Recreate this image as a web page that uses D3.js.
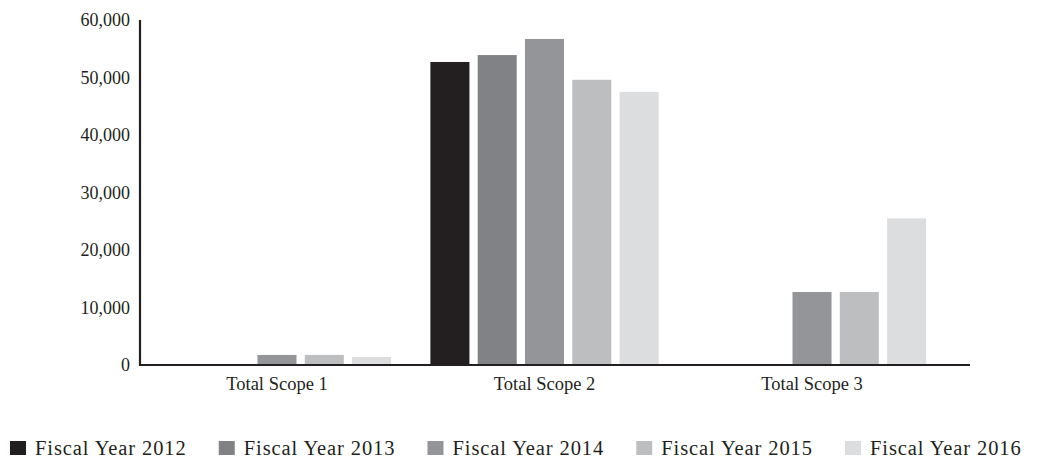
<!DOCTYPE html>
<html>
<head>
<meta charset="utf-8">
<script src="https://cdn.jsdelivr.net/npm/d3@7"></script>
<style>
  html, body { margin: 0; padding: 0; background: #ffffff; }
  svg { display: block; }
  text { font-family: "Liberation Serif", "DejaVu Serif", serif; fill: #231f20; }
</style>
</head>
<body>
<svg id="chart" width="1038" height="460"></svg>
<script>
const categories = ["Total Scope 1", "Total Scope 2", "Total Scope 3"];
const seriesNames = ["Fiscal Year 2012", "Fiscal Year 2013", "Fiscal Year 2014", "Fiscal Year 2015", "Fiscal Year 2016"];
const fy2012 = [0, 52700, 0];
const fy2013 = [0, 53900, 0];
const fy2014 = [1750, 56700, 12700];
const fy2015 = [1750, 49600, 12700];
const fy2016 = [1400, 47500, 25500];
const yTicks = [0, 10000, 20000, 30000, 40000, 50000, 60000];
const colors = ["#231f20", "#808285", "#939598", "#bcbec0", "#dcddde"];

const seriesValues = [fy2012, fy2013, fy2014, fy2015, fy2016];

const svg = d3.select("#chart");
const plotLeft = 140, plotRight = 970, plotTop = 20, plotBottom = 365;

const y = d3.scaleLinear().domain([0, 60000]).range([plotBottom, plotTop]);

const x0 = d3.scaleBand()
  .domain(categories)
  .range([158.75, 930.25])
  .paddingInner(0.116)
  .paddingOuter(0);

const x1 = d3.scaleBand()
  .domain(seriesNames)
  .range([0, x0.bandwidth()])
  .paddingInner(0.175)
  .paddingOuter(0.0875);

const color = d3.scaleOrdinal().domain(seriesNames).range(colors);

// bars
const groups = svg.append("g").selectAll("g")
  .data(categories)
  .join("g")
  .attr("transform", d => `translate(${x0(d)},0)`);

groups.selectAll("rect")
  .data((cat, ci) => seriesNames.map((s, si) => ({ s, v: seriesValues[si][ci] })))
  .join("rect")
  .filter(d => d.v > 0)
  .attr("x", d => x1(d.s))
  .attr("width", x1.bandwidth())
  .attr("y", d => y(d.v))
  .attr("height", d => y(0) - y(d.v))
  .attr("fill", d => color(d.s));

// y axis
const yAxis = d3.axisLeft(y)
  .tickValues(yTicks)
  .tickSize(0)
  .tickPadding(10)
  .tickFormat(d3.format(","));
const gy = svg.append("g").attr("transform", `translate(${plotLeft},0)`).call(yAxis);
gy.select(".domain").remove();
gy.selectAll("text")
  .style("font-family", '"Liberation Serif", serif')
  .style("font-size", "18px")
  .attr("fill", "#231f20");

svg.append("line")
  .attr("x1", plotLeft).attr("x2", plotLeft)
  .attr("y1", y(60000)).attr("y2", y(0) + 1)
  .attr("stroke", "#231f20").attr("stroke-width", 2.2);

// x axis
const xAxis = d3.axisBottom(x0).tickSize(0).tickPadding(12);
const gx = svg.append("g").attr("transform", `translate(0,${plotBottom})`).call(xAxis);
gx.select(".domain").remove();
gx.selectAll("text")
  .style("font-family", '"Liberation Serif", serif')
  .style("font-size", "18.5px")
  .attr("fill", "#231f20");

svg.append("line")
  .attr("x1", plotLeft - 1).attr("x2", plotRight)
  .attr("y1", y(0)).attr("y2", y(0))
  .attr("stroke", "#231f20").attr("stroke-width", 2.2);

// legend
const legendX = d3.scalePoint().domain(seriesNames).range([10, 845]);
const legend = svg.append("g").selectAll("g")
  .data(seriesNames)
  .join("g")
  .attr("transform", d => `translate(${legendX(d)},441)`);
legend.append("rect")
  .attr("width", 16).attr("height", 14)
  .attr("fill", d => color(d));
legend.append("text")
  .attr("x", 25).attr("y", 14)
  .style("font-size", "20.5px")
  .style("letter-spacing", "0.9px")
  .text(d => d);
</script>
</body>
</html>
